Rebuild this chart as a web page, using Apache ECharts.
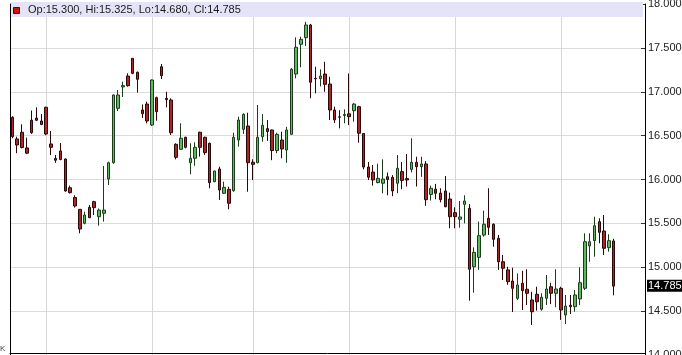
<!DOCTYPE html>
<html>
<head>
<meta charset="utf-8">
<script src="https://cdn.jsdelivr.net/npm/echarts@6/dist/echarts.min.js"></script>
<style>html,body{margin:0;padding:0;background:#fff;}#c{width:682px;height:355px;}</style>
</head>
<body>
<div id="c"></div>
<script>
// Daily OHLC values (oldest first)
const opens = [16.709,16.462,16.538,16.36,16.675,16.70,16.667,16.823,16.405,16.24,16.325,16.234,15.906,15.795,15.66,15.501,15.683,15.747,15.576,15.615,16.006,16.191,16.811,17.055,17.179,17.381,17.222,16.792,16.86,16.621,16.932,17.285,16.925,16.906,16.401,16.344,16.481,16.191,16.242,16.538,16.481,16.413,15.975,16.12,15.843,15.888,15.872,16.45,16.572,16.61,16.196,16.191,16.488,16.58,16.564,16.33,16.45,16.336,16.515,17.202,17.541,17.616,17.761,17.153,17.149,17.202,17.088,16.792,16.714,16.73,16.748,16.784,16.83,16.524,16.142,16.085,15.965,15.957,16.032,16.025,15.957,16.09,16.01,16.115,16.196,16.146,16.177,15.83,15.89,15.845,15.869,15.778,15.622,15.547,15.717,15.672,15.006,15.113,15.367,15.558,15.49,15.33,15.063,14.97,14.843,14.646,14.817,14.749,14.627,14.692,14.521,14.646,14.778,14.703,14.76,14.456,14.567,14.55,14.638,14.76,15.242,15.303,15.519,15.413,15.223,15.300];
const closes = [16.488,16.393,16.365,16.30,16.533,16.675,16.627,16.519,16.367,16.22,16.228,15.869,15.85,15.698,15.436,15.595,15.565,15.679,15.652,15.652,16.191,16.963,16.963,17.07,17.069,17.21,17.142,16.75,16.667,17.134,16.773,17.183,16.91,16.533,16.253,16.47,16.367,16.242,16.367,16.367,16.306,15.964,16.097,15.88,15.911,15.729,16.481,16.678,16.743,16.191,16.173,16.481,16.618,16.547,16.33,16.515,16.348,16.564,17.256,17.507,17.598,17.761,17.108,17.148,17.179,17.085,16.792,16.68,16.71,16.74,16.716,16.86,16.527,16.142,16.026,15.995,16.013,16.005,16.0,15.87,16.128,15.99,15.995,16.197,16.146,16.177,15.77,15.90,15.843,15.77,15.69,15.576,15.576,15.573,15.755,14.977,15.17,15.36,15.49,15.455,15.318,15.063,14.988,14.835,14.76,14.798,14.733,14.703,14.493,14.607,14.658,14.752,14.703,14.752,14.513,14.558,14.55,14.684,14.824,15.291,15.291,15.473,15.398,15.216,15.303,14.785];
const lows = [16.47,16.30,16.355,16.29,16.52,16.667,16.62,16.505,16.279,16.19,16.22,15.86,15.84,15.68,15.387,15.49,15.56,15.595,15.474,15.52,15.937,16.18,16.78,16.94,17.058,17.2,16.99,16.70,16.64,16.61,16.67,17.145,16.822,16.507,16.23,16.336,16.355,16.06,16.157,16.26,16.28,15.90,15.97,15.766,15.835,15.66,15.861,16.374,16.519,15.861,15.994,16.185,16.43,16.44,16.22,16.30,16.242,16.19,16.51,17.153,17.279,17.521,16.925,16.982,17.06,17.0,16.678,16.645,16.583,16.64,16.62,16.66,16.42,16.116,15.994,15.93,15.956,15.843,15.82,15.81,15.843,15.89,15.92,16.08,15.92,16.03,15.70,15.76,15.775,15.74,15.683,15.444,15.444,15.45,15.50,14.619,14.71,14.97,15.348,15.368,15.234,14.97,14.855,14.80,14.49,14.627,14.513,14.57,14.342,14.505,14.505,14.57,14.58,14.544,14.40,14.353,14.467,14.493,14.57,14.74,15.063,15.12,15.273,15.14,15.177,14.680];
const highs = [16.72,16.488,16.629,16.477,16.786,16.822,16.747,16.83,16.553,16.28,16.415,16.24,15.93,15.82,15.66,15.633,15.71,15.758,15.67,16.154,16.203,16.97,17.02,17.115,17.21,17.385,17.23,16.855,16.887,17.14,16.944,17.316,17.0,16.925,16.413,16.64,16.488,16.413,16.424,16.545,16.488,16.42,16.10,16.146,15.975,15.918,16.533,16.716,16.754,16.761,16.23,16.849,16.746,16.678,16.57,16.533,16.545,16.60,17.27,17.62,17.627,17.798,17.772,17.285,17.256,17.342,17.17,16.83,16.79,16.80,17.208,16.87,16.84,16.53,16.20,16.165,16.18,16.23,16.08,16.05,16.279,16.20,16.29,16.47,16.26,16.26,16.21,15.93,15.95,15.90,16.04,15.85,15.683,15.755,15.82,15.72,15.227,15.52,15.645,15.90,15.50,15.368,15.14,15.006,14.995,14.93,14.96,14.977,14.72,14.778,14.703,14.912,14.824,14.977,14.778,14.684,14.684,14.74,15.0,15.387,15.387,15.576,15.558,15.595,15.376,15.325];
const emptySlots = 6;                       // unused days at the right edge
const monthStartIdx = [7, 29, 50, 70, 92, 114]; // candles where the vertical gridlines fall
const yTicks = {min: 14, max: 18, step: 0.5};

const n = opens.length;
const categories = Array.from({length: n + emptySlots}, (_, i) => String(i + 1));
const ohlc = categories.map((_, i) => i < n ? [opens[i], closes[i], lows[i], highs[i]] : '-');
const last = n - 1;
const fmt = v => v.toFixed(3);
const legendText = 'Op:' + fmt(opens[last]) + ', Hi:' + fmt(highs[last]) + ', Lo:' + fmt(lows[last]) + ', Cl:' + fmt(closes[last]);
const monthSet = new Set(monthStartIdx);

const chart = echarts.init(document.getElementById('c'), null, {renderer: 'canvas'});
chart.setOption({
  animation: false,
  backgroundColor: '#ffffff',
  grid: {left: 10, right: 37, top: 4, bottom: 0, containLabel: false, outerBoundsMode: 'none'},
  xAxis: {
    type: 'category',
    data: categories,
    boundaryGap: true,
    offset: -2,
    axisLine: {show: true, lineStyle: {color: '#000', width: 1}},
    axisTick: {show: false},
    axisLabel: {show: false},
    splitLine: {
      show: true,
      alignWithLabel: true,
      interval: (idx) => monthSet.has(idx),
      lineStyle: {color: '#d6d6d6', width: 1}
    }
  },
  yAxis: [{
    type: 'value',
    position: 'right',
    min: yTicks.min, max: yTicks.max, interval: yTicks.step,
    axisLine: {show: true, lineStyle: {color: '#000', width: 1}},
    axisTick: {show: true, inside: true, length: 4, lineStyle: {color: '#333'}},
    axisLabel: {
      show: true, margin: 3, formatter: v => v.toFixed(3),
      fontFamily: 'Liberation Sans', fontSize: 11, color: '#222'
    },
    splitLine: {show: true, lineStyle: {color: '#dcdcdc', width: 1}}
  }, {
    type: 'value',
    position: 'left',
    min: yTicks.min, max: yTicks.max,
    axisLine: {show: true, lineStyle: {color: '#000', width: 1}},
    axisTick: {show: false},
    axisLabel: {show: false},
    splitLine: {show: false}
  }],
  series: [{
    type: 'candlestick',
    yAxisIndex: 0,
    data: ohlc,
    barWidth: 3,
    itemStyle: {
      color: '#5cb85c', color0: '#a8282a',
      borderColor: '#1c3d1c', borderColor0: '#2a0808',
      borderWidth: 1
    },
    markLine: {
      silent: true,
      symbol: 'none',
      lineStyle: {color: 'rgba(0,0,0,0)', width: 0, type: 'solid'},
      label: {
        show: true, position: 'end', distance: 2,
        formatter: () => fmt(closes[last]),
        backgroundColor: '#000', color: '#fff',
        fontFamily: 'Liberation Sans', fontSize: 11,
        padding: [1, 1, 0, 1]
      },
      data: [{yAxis: closes[last]}]
    }
  }],
  graphic: [
    {type: 'rect', left: 11, top: 2, shape: {width: 632, height: 15}, style: {fill: '#e4e4f8'}, silent: true, z: 100},
    {type: 'rect', left: 13, top: 7, shape: {width: 6, height: 6}, style: {fill: '#cc1111', stroke: '#5a0000', lineWidth: 1}, silent: true, z: 101},
    {type: 'text', left: 28, top: 4, style: {text: legendText, font: '11px "Liberation Sans"', fill: '#1a1a1a'}, silent: true, z: 101},
    {type: 'text', left: 0, top: 345, style: {text: 'K', font: '8px "Liberation Sans"', fill: '#444'}, silent: true, z: 101}
  ]
});
</script>
</body>
</html>
